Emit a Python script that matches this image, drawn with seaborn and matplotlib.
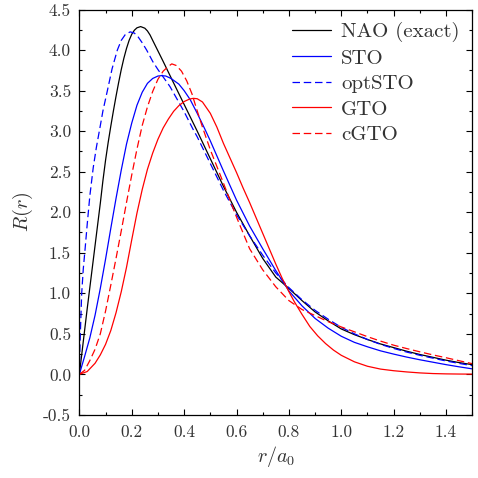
import matplotlib
matplotlib.use("Agg")
import matplotlib.pyplot as plt
import seaborn as sns
from matplotlib.ticker import MultipleLocator, FormatStrFormatter

# ---- data ----
nao_r = [0, 0.01, 0.02, 0.03, 0.04, 0.05, 0.06, 0.07, 0.08, 0.09, 0.1, 0.11, 0.12, 0.13, 0.14, 0.15, 0.16, 0.17, 0.18, 0.19, 0.2, 0.21, 0.22, 0.234, 0.25, 0.26, 0.27, 0.28, 0.29, 0.3, 0.32, 0.35, 0.4, 0.45, 0.5, 0.55, 0.6, 0.65, 0.7, 0.75, 0.8, 0.85, 0.9, 0.95, 1.0, 1.05, 1.1, 1.15, 1.2, 1.25, 1.3, 1.35, 1.4, 1.45, 1.5]
nao_R = [0, 0.27, 0.54, 0.81, 1.07, 1.33, 1.59, 1.85, 2.11, 2.39, 2.64, 2.86, 3.06, 3.25, 3.43, 3.6, 3.76, 3.9, 4.02, 4.12, 4.195, 4.245, 4.275, 4.29, 4.27, 4.236, 4.186, 4.12, 4.055, 3.99, 3.86, 3.66, 3.33, 3.0, 2.66, 2.32, 2.0, 1.71, 1.43, 1.2, 1.06, 0.91, 0.77, 0.66, 0.56, 0.49, 0.43, 0.375, 0.33, 0.285, 0.245, 0.21, 0.175, 0.145, 0.12]

sto_r = [0, 0.02, 0.04, 0.06, 0.08, 0.1, 0.12, 0.14, 0.16, 0.18, 0.2, 0.22, 0.24, 0.26, 0.28, 0.3, 0.314, 0.33, 0.35, 0.38, 0.4, 0.423, 0.45, 0.48, 0.5, 0.55, 0.6, 0.65, 0.7, 0.75, 0.8, 0.85, 0.9, 0.95, 1.0, 1.05, 1.1, 1.15, 1.2, 1.25, 1.3, 1.35, 1.4, 1.45, 1.5]
sto_R = [0, 0.22, 0.45, 0.73, 1.06, 1.42, 1.8, 2.17, 2.52, 2.84, 3.1, 3.32, 3.48, 3.59, 3.65, 3.68, 3.685, 3.68, 3.65, 3.58, 3.5, 3.39, 3.22, 3.02, 2.88, 2.51, 2.15, 1.83, 1.55, 1.28, 1.03, 0.845, 0.69, 0.57, 0.47, 0.395, 0.34, 0.29, 0.25, 0.213, 0.18, 0.15, 0.12, 0.093, 0.068]

optsto_r = [0, 0.002, 0.005, 0.009, 0.015, 0.022, 0.03, 0.04, 0.053, 0.065, 0.079, 0.09, 0.107, 0.125, 0.145, 0.16, 0.175, 0.194, 0.21, 0.225, 0.24, 0.257, 0.28, 0.3, 0.346, 0.4, 0.433, 0.45, 0.5, 0.55, 0.6, 0.65, 0.7, 0.75, 0.8, 0.85, 0.9, 0.95, 1.0, 1.05, 1.1, 1.15, 1.2, 1.25, 1.3, 1.35, 1.4, 1.45, 1.5]
optsto_R = [0, 0.3, 0.62, 1.0, 1.3, 1.55, 1.85, 2.2, 2.55, 2.8, 3.05, 3.25, 3.5, 3.77, 4.0, 4.12, 4.19, 4.225, 4.21, 4.16, 4.09, 4.0, 3.86, 3.76, 3.55, 3.24, 3.03, 2.93, 2.6, 2.27, 1.97, 1.71, 1.47, 1.25, 1.07, 0.92, 0.79, 0.68, 0.58, 0.5, 0.43, 0.37, 0.32, 0.275, 0.235, 0.2, 0.165, 0.135, 0.107]

gto_r = [0, 0.03, 0.06, 0.08, 0.1, 0.12, 0.14, 0.16, 0.18, 0.2, 0.22, 0.24, 0.26, 0.28, 0.3, 0.32, 0.34, 0.36, 0.38, 0.4, 0.42, 0.435, 0.45, 0.47, 0.5, 0.525, 0.55, 0.575, 0.6, 0.625, 0.65, 0.675, 0.7, 0.725, 0.75, 0.775, 0.8, 0.82, 0.85, 0.88, 0.91, 0.94, 0.97, 1.0, 1.05, 1.1, 1.15, 1.2, 1.25, 1.3, 1.35, 1.4, 1.45, 1.5]
gto_R = [0, 0.035, 0.137, 0.24, 0.37, 0.54, 0.76, 1.02, 1.32, 1.66, 1.99, 2.28, 2.53, 2.73, 2.9, 3.04, 3.15, 3.245, 3.315, 3.365, 3.395, 3.405, 3.4, 3.36, 3.22, 3.05, 2.85, 2.67, 2.49, 2.3, 2.12, 1.93, 1.74, 1.55, 1.36, 1.18, 1.02, 0.9, 0.74, 0.59, 0.475, 0.38, 0.3, 0.235, 0.155, 0.1, 0.065, 0.045, 0.03, 0.018, 0.01, 0.006, 0.004, 0.003]

cgto_r = [0, 0.02, 0.04, 0.06, 0.08, 0.1, 0.12, 0.14, 0.16, 0.18, 0.2, 0.22, 0.24, 0.26, 0.28, 0.3, 0.32, 0.34, 0.353, 0.37, 0.39, 0.41, 0.43, 0.448, 0.47, 0.5, 0.55, 0.6, 0.65, 0.7, 0.75, 0.8, 0.85, 0.9, 0.95, 1.0, 1.05, 1.1, 1.15, 1.2, 1.25, 1.3, 1.35, 1.4, 1.45, 1.5]
cgto_R = [0, 0.05, 0.17, 0.31, 0.5, 0.78, 1.1, 1.43, 1.77, 2.12, 2.46, 2.78, 3.07, 3.3, 3.49, 3.64, 3.74, 3.8, 3.83, 3.81, 3.74, 3.62, 3.46, 3.27, 3.05, 2.77, 2.36, 1.94, 1.55, 1.29, 1.08, 0.91, 0.8, 0.725, 0.65, 0.585, 0.525, 0.465, 0.41, 0.36, 0.318, 0.278, 0.24, 0.205, 0.168, 0.132]

labels = ["NAO (exact)", "STO", "optSTO", "GTO", "cGTO"]
colors = ["black", "#0000ff", "#0000ff", "#ff0000", "#ff0000"]
styles = ["-", "-", (0, (6, 3)), "-", (0, (6, 3))]

sns.set_theme(style="ticks")
plt.rcParams["font.family"] = "serif"
plt.rcParams["font.serif"] = ["cmr10", "DejaVu Serif"]
plt.rcParams["mathtext.fontset"] = "cm"
plt.rcParams["axes.unicode_minus"] = False

fig = plt.figure(figsize=(4.78, 4.78), dpi=100)
ax = fig.add_axes([0.166, 0.132, 0.822, 0.848])

series = [(nao_r, nao_R), (sto_r, sto_R), (optsto_r, optsto_R), (gto_r, gto_R), (cgto_r, cgto_R)]
for (xr, yr), lab, c, ls in zip(series, labels, colors, styles):
    sns.lineplot(x=xr, y=yr, ax=ax, color=c, linestyle=ls, linewidth=0.9,
                 label=lab, estimator=None, sort=True)

ax.set_xlim(0, 1.5)
ax.set_ylim(-0.5, 4.5)
ax.xaxis.set_major_locator(MultipleLocator(0.2))
ax.xaxis.set_minor_locator(MultipleLocator(0.1))
ax.yaxis.set_major_locator(MultipleLocator(0.5))
ax.yaxis.set_minor_locator(MultipleLocator(0.25))
ax.xaxis.set_major_formatter(FormatStrFormatter("%.1f"))
ax.yaxis.set_major_formatter(FormatStrFormatter("%.1f"))
ax.tick_params(which="both", direction="in", top=True, right=True, colors="black",
               labelsize=12.5, labelcolor="#333333")
ax.tick_params(which="major", length=4.3, width=0.8)
ax.tick_params(which="minor", length=2.5, width=0.8)
ax.tick_params(axis="y", which="major", pad=6)
ax.tick_params(axis="x", which="major", pad=7)
for s in ax.spines.values():
    s.set_color("black")
    s.set_linewidth(0.9)

ax.set_xlabel(r"$r/a_0$", fontsize=14.5, color="#333333", labelpad=3)
ax.set_ylabel(r"$R(r)$", fontsize=14.5, color="#333333", labelpad=6)

leg = ax.legend(loc="upper right", frameon=False, fontsize=15, handlelength=1.85,
                labelspacing=0.33, handletextpad=0.5, borderaxespad=0.2)
for t in leg.get_texts():
    t.set_color("#333333")

fig.savefig("out.png", dpi=100)
